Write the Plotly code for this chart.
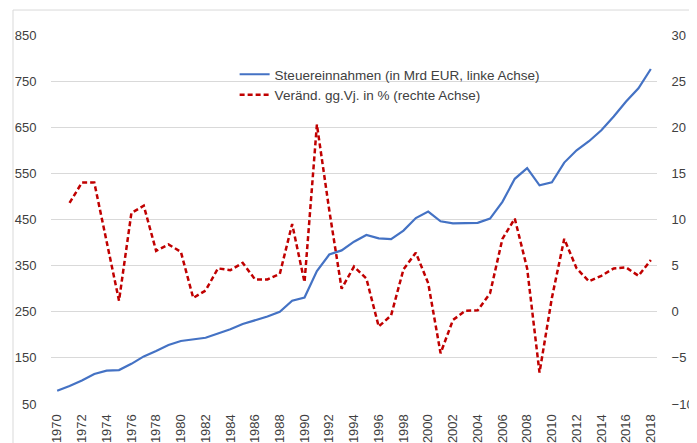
import plotly.graph_objects as go

years = list(range(1970, 2019))
steuereinnahmen = [78.8, 88.9, 100.9, 114.9, 122.2, 123.6, 137.1, 153.2, 165.1, 177.8,
                   186.6, 189.3, 193.6, 202.8, 212.0, 223.5, 231.3, 239.6, 250.1, 273.8,
                   281.0, 338.4, 374.1, 383.0, 401.9, 416.3, 409.0, 407.6, 425.9, 453.1,
                   467.3, 446.2, 441.7, 442.2, 442.8, 452.1, 488.4, 538.2, 561.2, 524.0,
                   530.6, 573.4, 600.0, 619.7, 643.6, 673.3, 705.8, 734.5, 776.3]
veraenderung_years = list(range(1971, 2019))
veraenderung = [11.8, 14.0, 14.0, 7.5, 1.2, 10.7, 11.5, 6.6, 7.3,
                6.5, 1.5, 2.3, 4.7, 4.5, 5.3, 3.5, 3.5, 4.1, 9.5,
                3.2, 20.3, 11.0, 2.5, 4.9, 3.6, -1.6, -0.4, 4.6, 6.4,
                3.1, -4.5, -0.9, 0.1, 0.15, 2.0, 7.9, 10.1, 4.7, -6.6,
                1.5, 7.9, 4.7, 3.3, 3.9, 4.7, 4.8, 3.9, 5.6]
left_ticks = [50, 150, 250, 350, 450, 550, 650, 750, 850]
right_ticks = [-10, -5, 0, 5, 10, 15, 20, 25, 30]
x_ticks = list(range(1970, 2019, 2))

name_blue = "Steuereinnahmen (in Mrd EUR, linke Achse)"
name_red = "Veränd. gg.Vj. in % (rechte Achse)"

font_family = "Liberation Sans, Arial, sans-serif"
txt_color = "#404040"
grid_color = "#d9d9d9"

fig = go.Figure()
fig.add_trace(go.Scatter(x=years, y=steuereinnahmen, name=name_blue, mode="lines",
                         line=dict(color="#4472C4", width=2.2), yaxis="y"))
fig.add_trace(go.Scatter(x=veraenderung_years, y=veraenderung, name=name_red, mode="lines",
                         line=dict(color="#C00000", width=2.5, dash="5px,3px"), yaxis="y2"))

fig.update_layout(
    width=689, height=435,
    margin=dict(l=43, r=40, t=27, b=38.5),
    paper_bgcolor="white", plot_bgcolor="white",
    font=dict(family=font_family, size=13, color=txt_color),
    showlegend=True,
    legend=dict(x=0.303, y=0.935, xanchor="left", yanchor="top",
                bgcolor="rgba(0,0,0,0)", font=dict(size=13.5, color=txt_color),
                tracegroupgap=0, itemwidth=30),
    xaxis=dict(range=[1969.5, 2018.5], tickmode="array", tickvals=x_ticks,
               ticktext=[str(v) for v in x_ticks], tickangle=-90,
               showgrid=False, zeroline=False, showline=False,
               ticks="outside", ticklen=4, tickcolor="rgba(0,0,0,0)",
               automargin=False),
    yaxis=dict(range=[50, 850], tickmode="array", tickvals=left_ticks,
               showgrid=True, gridcolor=grid_color, gridwidth=1,
               zeroline=False, showline=False,
               ticks="outside", ticklen=11, tickcolor="rgba(0,0,0,0)",
               automargin=False),
    yaxis2=dict(range=[-10, 30], tickmode="array", tickvals=right_ticks,
                overlaying="y", side="right", showgrid=False,
                zeroline=False, showline=False,
                ticks="outside", ticklen=11, tickcolor="rgba(0,0,0,0)",
                automargin=False),
    shapes=[dict(type="rect", xref="paper", yref="paper",
                 x0=-0.0627, x1=1.0578, y0=-0.13, y1=1.0677,
                 line=dict(color="#d9d9d9", width=1), fillcolor="rgba(0,0,0,0)",
                 layer="above")],
)

fig.write_html("out.html")
